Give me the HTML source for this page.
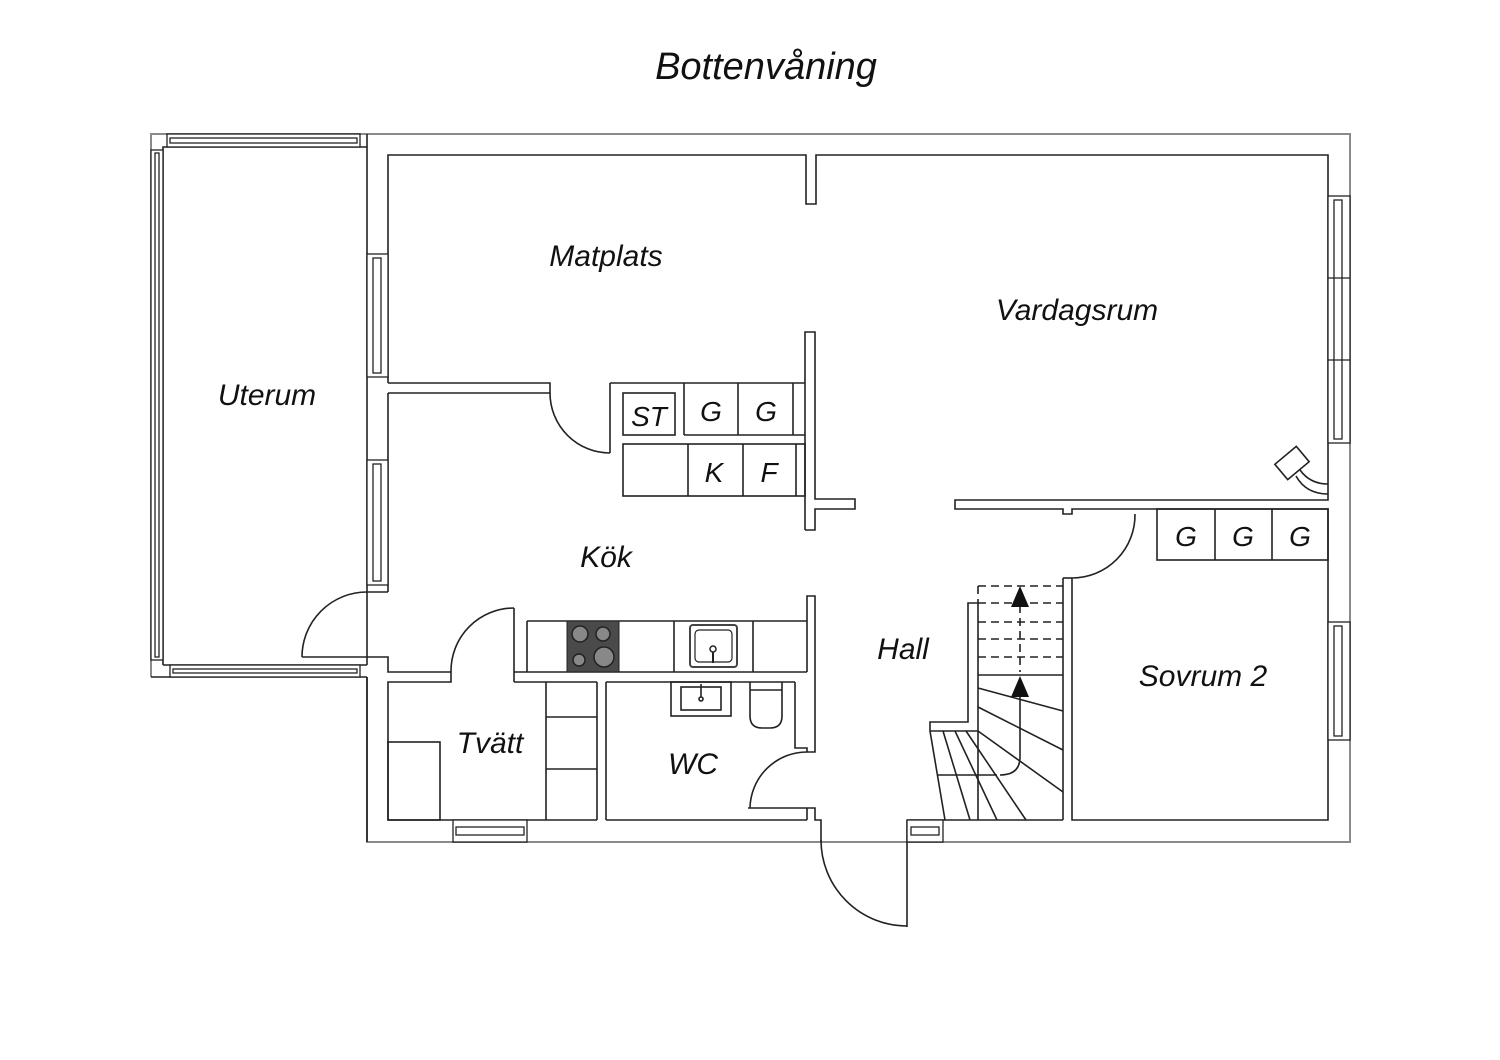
<!DOCTYPE html>
<html><head><meta charset="utf-8"><style>
html,body{margin:0;padding:0;background:#fff;}
svg{display:block}
text{font-family:"Liberation Sans",sans-serif;font-style:italic;fill:#111;}
</style></head><body>
<svg width="1500" height="1060" viewBox="0 0 1500 1060" xmlns="http://www.w3.org/2000/svg">
<rect width="1500" height="1060" fill="#fff"/>
<text x="766" y="79" font-size="38" text-anchor="middle">Bottenvåning</text>

<!-- outer grey boundary -->
<g fill="none" stroke="#8a8a8a" stroke-width="2">
<polyline points="151,677 151,134 1350,134 1350,842 367,842 367,677"/>
</g>

<g fill="none" stroke="#222" stroke-width="1.6">
<!-- Uterum inner -->
<polyline points="163,665 163,147 367,147 367,665"/>
<line x1="151" y1="677" x2="367" y2="677"/>
<line x1="163" y1="665" x2="367" y2="665"/>
<line x1="367" y1="147" x2="367" y2="134"/>

<!-- Matplats / Vardagsrum top -->
<polyline points="388,383 388,155 806,155 806,204 816,204 816,155 1328,155 1328,500 955,500 955,509 1063,509 1063,514 1072,514 1072,509 1328,509 1328,820 1072,820 1072,578"/>
<line x1="1063" y1="578" x2="1063" y2="820"/>
<line x1="1063" y1="578" x2="1072" y2="578"/>

<!-- Matplats-Kok wall -->
<polyline points="388,383 550,383 550,393 388,393"/>
<line x1="610" y1="383" x2="805" y2="383"/>
<line x1="610" y1="383" x2="610" y2="453"/>
<path d="M550,393 A60,60 0 0 0 610,453"/>

<!-- cabinets upper -->
<rect x="623" y="393" width="52" height="42"/>
<line x1="684" y1="383" x2="684" y2="435"/>
<line x1="738" y1="383" x2="738" y2="435"/>
<line x1="793" y1="383" x2="793" y2="435"/>
<line x1="684" y1="435" x2="805" y2="435"/>
<rect x="623" y="444" width="182" height="52"/>
<line x1="688" y1="444" x2="688" y2="496"/>
<line x1="743" y1="444" x2="743" y2="496"/>
<line x1="796" y1="444" x2="796" y2="496"/>

<!-- central partition -->
<polyline points="805,530 805,332 815,332 815,499 855,499 855,509 815,509 815,530 805,530"/>

<!-- Kok left wall -->
<line x1="388" y1="393" x2="388" y2="592"/>
<line x1="367" y1="592" x2="388" y2="592"/>
<path d="M367,592 A65,65 0 0 0 302,657"/>
<line x1="302" y1="657" x2="367" y2="657"/>
<polyline points="367,657 388,657 388,672 451,672 451,682 388,682 388,820"/>
<line x1="367" y1="677" x2="367" y2="842"/>

<!-- Tvatt door -->
<line x1="514" y1="608" x2="514" y2="682"/>
<path d="M514,608 A63,63 0 0 0 451,672"/>
<line x1="514" y1="672" x2="807" y2="672"/>
<line x1="514" y1="682" x2="597" y2="682"/>
<line x1="606" y1="682" x2="795" y2="682"/>

<!-- kitchen counter -->
<line x1="527" y1="621" x2="807" y2="621"/>
<line x1="527" y1="621" x2="527" y2="672"/>
<line x1="674" y1="621" x2="674" y2="672"/>
<line x1="753" y1="621" x2="753" y2="672"/>

<!-- kitchen right wall -->
<polyline points="807,672 807,596 815,596 815,752 807,752"/>
<polyline points="795,682 795,748 807,748 807,752"/>
<line x1="807" y1="808" x2="748" y2="808"/>
<path d="M807,752 A57,57 0 0 0 750,808"/>
<polyline points="807,808 815,808 815,820 821,820 821,842"/>

<!-- Tvatt / WC -->
<line x1="388" y1="820" x2="597" y2="820"/>
<line x1="606" y1="820" x2="807" y2="820"/>
<line x1="597" y1="682" x2="597" y2="820"/>
<line x1="606" y1="682" x2="606" y2="820"/>
<line x1="807" y1="808" x2="807" y2="820"/>
<rect x="388" y="742" width="52" height="78"/>
<line x1="546" y1="682" x2="546" y2="820"/>
<line x1="546" y1="717" x2="597" y2="717"/>
<line x1="546" y1="769" x2="597" y2="769"/>
<!-- WC sink -->
<rect x="671" y="682" width="60" height="34"/>
<rect x="681" y="687" width="40" height="23"/>
<line x1="701" y1="684" x2="701" y2="697"/>
<circle cx="701" cy="699" r="2"/>
<!-- toilet -->
<path d="M750,682 L750,716 Q750,728 762,728 L770,728 Q782,728 782,716 L782,682"/>
<line x1="750" y1="690" x2="782" y2="690"/>

<!-- entrance door -->
<line x1="907" y1="820" x2="907" y2="927"/>
<path d="M821,840 A86,86 0 0 0 907,926"/>
<line x1="907" y1="820" x2="945" y2="820"/>

<!-- stairs -->
<polyline points="978,603 968,603 968,722 930,722 930,731 945,820 1063,820"/>
<line x1="978" y1="603" x2="978" y2="820"/>
<line x1="978" y1="675" x2="1063" y2="675"/>
<line x1="930" y1="731" x2="978" y2="731"/>
<line x1="978" y1="688" x2="1063" y2="711"/>
<line x1="978" y1="707" x2="1063" y2="750"/>
<line x1="978" y1="731" x2="1063" y2="792"/>
<line x1="966" y1="731" x2="1026" y2="820"/>
<line x1="955" y1="731" x2="997" y2="820"/>
<line x1="943" y1="731" x2="970" y2="820"/>
<line x1="938" y1="775" x2="997" y2="775"/>
<path d="M1020,690 L1020,757 Q1020,775 1000,775"/>
<g stroke-dasharray="8,5">
<line x1="978" y1="586" x2="1063" y2="586"/>
<line x1="978" y1="603" x2="1063" y2="603"/>
<line x1="978" y1="622" x2="1063" y2="622"/>
<line x1="978" y1="639" x2="1063" y2="639"/>
<line x1="978" y1="657" x2="1063" y2="657"/>
<line x1="978" y1="586" x2="978" y2="603"/>
<line x1="1020" y1="605" x2="1020" y2="672"/>
</g>

<!-- Sovrum door -->
<path d="M1135,514 A63,63 0 0 1 1072,578"/>
<!-- wardrobes -->
<rect x="1157" y="509" width="171" height="51"/>
<line x1="1215" y1="509" x2="1215" y2="560"/>
<line x1="1272" y1="509" x2="1272" y2="560"/>

<!-- device -->
<g transform="translate(1292,463) rotate(-40)">
<rect x="-14" y="-10" width="28" height="20"/>
</g>
<path d="M1300,470 Q1310,484 1328,484 M1296,476 Q1306,494 1328,494"/>
</g>

<!-- arrows -->
<polygon points="1020,586 1011,607 1029,607" fill="#111"/>
<polygon points="1020,676 1011,697 1029,697" fill="#111"/>

<!-- cooktop -->
<rect x="567" y="621" width="52" height="51" fill="#4a4a4a" stroke="#222"/>
<g fill="#888" stroke="#222" stroke-width="1.5">
<circle cx="580" cy="634" r="8"/><circle cx="603" cy="634" r="7"/>
<circle cx="579" cy="660" r="6"/><circle cx="604" cy="657" r="10"/>
</g>
<!-- kitchen sink -->
<rect x="690" y="625" width="47" height="42" rx="3" fill="none" stroke="#444" stroke-width="2"/>
<rect x="695" y="630" width="37" height="32" rx="4" fill="none" stroke="#222" stroke-width="1.2"/>
<circle cx="713" cy="649" r="3" fill="none" stroke="#222" stroke-width="1.5"/>
<line x1="713" y1="652" x2="713" y2="663" stroke="#222" stroke-width="2"/>

<!-- windows -->
<g fill="#fff" stroke="#222" stroke-width="1.3">
<rect x="167" y="134" width="193" height="13"/><rect x="170" y="138" width="187" height="5"/>
<rect x="151" y="150" width="12" height="510"/><rect x="155" y="153" width="4" height="504"/>
<rect x="170" y="665" width="190" height="12"/><rect x="173" y="669" width="184" height="4"/>
<rect x="367" y="254" width="21" height="123"/><rect x="373" y="258" width="8" height="115"/>
<rect x="367" y="460" width="21" height="125"/><rect x="373" y="464" width="8" height="117"/>
<rect x="1328" y="196" width="22" height="247"/><rect x="1334" y="200" width="8" height="239"/>
<line x1="1328" y1="278" x2="1350" y2="278"/><line x1="1328" y1="360" x2="1350" y2="360"/>
<rect x="1328" y="622" width="22" height="118"/><rect x="1334" y="626" width="8" height="110"/>
<rect x="453" y="820" width="74" height="22"/><rect x="456" y="827" width="68" height="8"/>
<rect x="907" y="820" width="36" height="22"/><rect x="911" y="827" width="28" height="8"/>
</g>

<!-- labels -->
<text x="606" y="266" font-size="30" text-anchor="middle">Matplats</text>
<text x="1077" y="320" font-size="30" text-anchor="middle">Vardagsrum</text>
<text x="267" y="405" font-size="30" text-anchor="middle">Uterum</text>
<text x="606" y="567" font-size="30" text-anchor="middle">Kök</text>
<text x="903" y="659" font-size="30" text-anchor="middle">Hall</text>
<text x="1203" y="686" font-size="30" text-anchor="middle">Sovrum 2</text>
<text x="490" y="753" font-size="30" text-anchor="middle">Tvätt</text>
<text x="693" y="774" font-size="30" text-anchor="middle">WC</text>
<text x="649" y="426" font-size="28" text-anchor="middle">ST</text>
<text x="711" y="421" font-size="28" text-anchor="middle">G</text>
<text x="766" y="421" font-size="28" text-anchor="middle">G</text>
<text x="714" y="482" font-size="28" text-anchor="middle">K</text>
<text x="769" y="482" font-size="28" text-anchor="middle">F</text>
<text x="1186" y="546" font-size="28" text-anchor="middle">G</text>
<text x="1243" y="546" font-size="28" text-anchor="middle">G</text>
<text x="1300" y="546" font-size="28" text-anchor="middle">G</text>
</svg>
</body></html>
